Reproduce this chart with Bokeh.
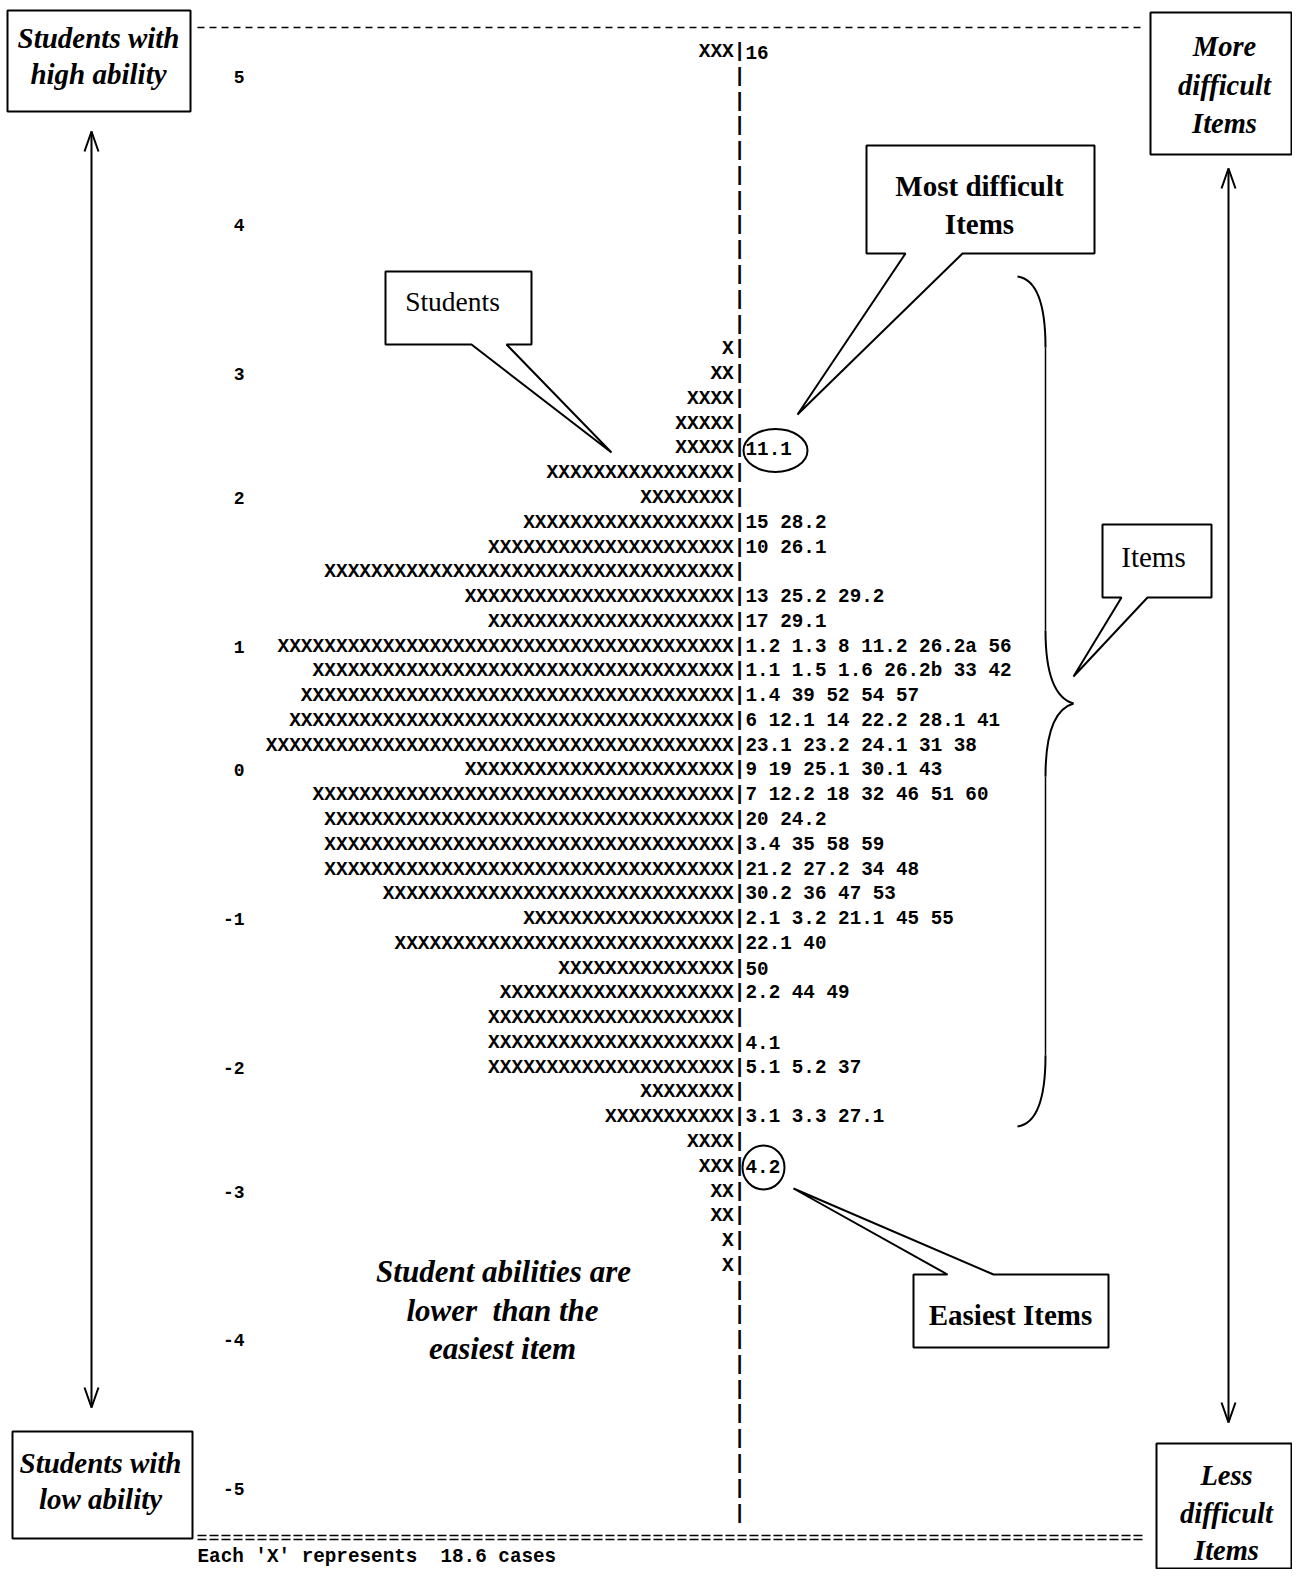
from bokeh.plotting import figure
from bokeh.models import Range1d, ColumnDataSource
from bokeh.core.properties import value
from bokeh.embed import file_html
from bokeh.resources import INLINE

# ---------------- data (one entry per text row of the Wright map) ----------------
student_counts = [3, 0, 0, 0, 0, 0, 0, 0, 0, 0, 0, 0, 1, 2, 4, 5, 5, 16, 8, 18,
                  21, 35, 23, 21, 39, 36, 37, 38, 40, 23, 36, 35, 35, 35, 30, 18, 29, 15, 20, 21,
                  21, 21, 8, 11, 4, 3, 2, 2, 1, 1, 0, 0, 0, 0, 0, 0, 0, 0, 0, 0]
item_labels = {0: "16", 16: "11.1", 19: "15 28.2", 20: "10 26.1", 22: "13 25.2 29.2",
               23: "17 29.1", 24: "1.2 1.3 8 11.2 26.2a 56", 25: "1.1 1.5 1.6 26.2b 33 42",
               26: "1.4 39 52 54 57", 27: "6 12.1 14 22.2 28.1 41", 28: "23.1 23.2 24.1 31 38",
               29: "9 19 25.1 30.1 43", 30: "7 12.2 18 32 46 51 60", 31: "20 24.2",
               32: "3.4 35 58 59", 33: "21.2 27.2 34 48", 34: "30.2 36 47 53",
               35: "2.1 3.2 21.1 45 55", 36: "22.1 40", 37: "50", 38: "2.2 44 49",
               40: "4.1", 41: "5.1 5.2 37", 43: "3.1 3.3 27.1", 45: "4.2"}
tick_labels = ["5", "4", "3", "2", "1", "0", "-1", "-2", "-3", "-4", "-5"]
tick_rows = [1, 7, 13, 18, 24, 29, 35, 41, 46, 52, 58]
footnote = "Each 'X' represents \u00a018.6 cases"

# ---------------- layout constants (image pixel space) ----------------
W, H = 1292, 1569
Y0, DY = 51.6, 24.77          # centre of row 0, row pitch
BAR_X = 745                   # right edge of the "|" column
MONO = value("Liberation Mono")
SERIF = value("Liberation Serif")


def yr(Y):
    return (Y - Y0) / DY


p = figure(width=W, height=H, x_range=Range1d(0, W),
           y_range=Range1d(yr(H), yr(0)),
           output_backend="svg", toolbar_location=None, min_border=0)
p.axis.visible = False
p.grid.visible = False
p.outline_line_color = None
p.background_fill_color = "white"

rows = list(range(len(student_counts)))
left_txt = ["X" * n + "|" for n in student_counts]
src = ColumnDataSource(dict(x=[BAR_X] * len(rows), y=rows, t=left_txt))
p.text(x="x", y="y", text="t", source=src, text_align="right", text_baseline="middle",
       text_font=MONO, text_font_style="bold", text_font_size="19.5px", text_color="black")

irows = sorted(item_labels)
isrc = ColumnDataSource(dict(x=[BAR_X] * len(irows), y=irows, t=[item_labels[r] for r in irows]))
p.text(x="x", y="y", text="t", source=isrc, text_align="left", text_baseline="middle",
       text_font=MONO, text_font_style="bold", text_font_size="19.3px", text_color="black")

p.text(x=[244] * len(tick_rows), y=tick_rows, text=tick_labels, text_align="right",
       text_baseline="middle", text_font=MONO, text_font_style="bold",
       text_font_size="18px", text_color="black")

p.text(x=[197], y=[yr(1556)], text=[footnote], text_align="left", text_baseline="middle",
       text_font=MONO, text_font_style="bold", text_font_size="19.3px", text_color="black")

# top dashed rule and bottom double rule
p.segment(x0=[197], y0=[yr(27)], x1=[1140], y1=[yr(27)], line_color="black",
          line_width=1.5, line_dash="7 5")
p.segment(x0=[197, 197], y0=[yr(1535), yr(1539)], x1=[1142, 1142], y1=[yr(1535), yr(1539)],
          line_color="black", line_width=1.5, line_dash="9 3")

# plain boxes
boxes = [(7, 10, 190, 111), (12, 1431, 192, 1538), (1150, 12, 1291, 154), (1156, 1443, 1291, 1568)]
for (x0, y0, x1, y1) in boxes:
    p.patch([x0, x1, x1, x0], [yr(y0), yr(y0), yr(y1), yr(y1)], fill_color="white",
            line_color="black", line_width=2)


def label(lines, xs, ys, style, size):
    p.text(x=xs, y=[yr(v) for v in ys], text=lines, text_align="center",
           text_baseline="middle", text_font=SERIF, text_font_style=style,
           text_font_size=size, text_color="black")


label(["Students with", "high ability"], [98, 98], [37, 73], "bold italic", "29px")
label(["Students with", "low ability"], [100, 100], [1462, 1498], "bold italic", "29px")
label(["More", "difficult", "Items"], [1224] * 3, [46, 85, 123], "bold italic", "28.5px")
label(["Less", "difficult", "Items"], [1226] * 3, [1475, 1513, 1550], "bold italic", "28.5px")
label(["Student abilities are", "lower \u00a0than the", "easiest item"], [503, 502, 502],
      [1271, 1310, 1348], "bold italic", "31px")

# callouts
callouts = [
    [(385, 271), (531, 271), (531, 344), (506, 344), (611, 452), (471, 344), (385, 344)],
    [(866, 145), (1094, 145), (1094, 253), (962, 253), (797, 414), (905, 253), (866, 253)],
    [(1102, 524), (1211, 524), (1211, 597), (1147, 597), (1073, 676), (1121, 597), (1102, 597)],
    [(913, 1274), (947, 1274), (793, 1188), (993, 1274), (1108, 1274), (1108, 1347), (913, 1347)],
]
for pts in callouts:
    p.patch([a for a, b in pts], [yr(b) for a, b in pts], fill_color="white",
            line_color="black", line_width=2)
label(["Students"], [452], [301], "normal", "27.5px")
label(["Most difficult", "Items"], [979, 979], [185, 223], "bold", "29px")
label(["Items"], [1153], [556], "normal", "29px")
label(["Easiest Items"], [1010], [1314], "bold", "29px")

# circles
p.ellipse(x=[775, 763], y=[yr(450), yr(1167)], width=[64, 42], height=[43, 44],
          width_units="screen", height_units="screen", fill_color=None,
          line_color="black", line_width=2)

# curly brace
bx, tipx = 1045, 1073
p.quadratic(x0=[1017, bx, tipx, bx], y0=[yr(276), yr(630), yr(703), yr(1055)],
            x1=[bx, tipx, bx, 1017], y1=[yr(347), yr(703), yr(776), yr(1126)],
            cx=[bx, bx, bx, bx], cy=[yr(280), yr(695), yr(711), yr(1122)],
            line_color="black", line_width=2)
p.segment(x0=[bx, bx], y0=[yr(347), yr(776)], x1=[bx, bx], y1=[yr(630), yr(1055)],
          line_color="black", line_width=1.5)

# double arrows
for ax, top, bot in [(91, 131, 1407), (1228, 168, 1422)]:
    p.segment(x0=[ax], y0=[yr(top)], x1=[ax], y1=[yr(bot)], line_color="black", line_width=2)
    p.multi_line(xs=[[ax - 7, ax, ax + 7], [ax - 7, ax, ax + 7]],
                 ys=[[yr(top + 20), yr(top), yr(top + 20)], [yr(bot - 20), yr(bot), yr(bot - 20)]],
                 line_color="black", line_width=2)

open("out.html", "w").write(file_html(p, INLINE))
